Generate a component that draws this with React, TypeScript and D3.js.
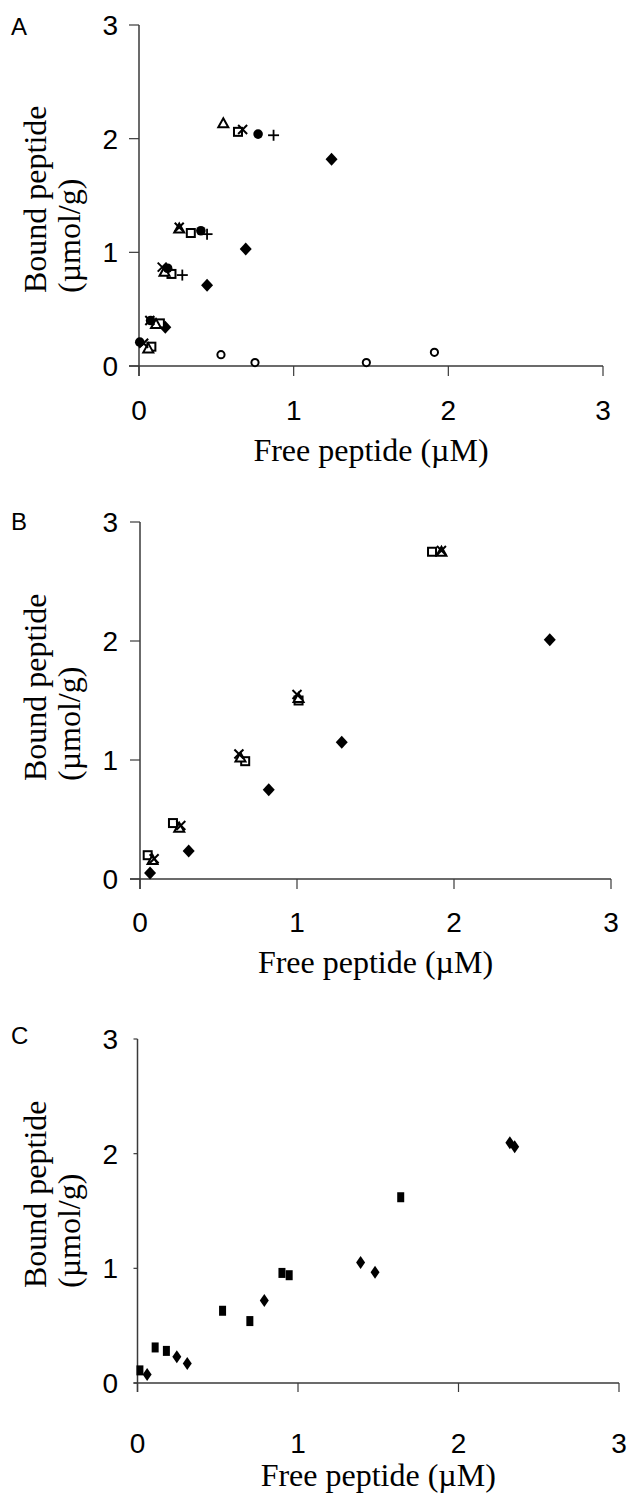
import React from 'react';
import * as d3 from 'd3';

type Pt = [number, number];

const tickValues = [0, 1, 2, 3];
const panelLetters = ['A', 'B', 'C'];
const xTitle = 'Free peptide (\u00b5M)';
const yTitle1 = 'Bound peptide';
const yTitle2 = '(\u00b5mol/g)';

// Panel A
const aDiamond: Pt[] = [[0.17, 0.34], [0.44, 0.71], [0.69, 1.03], [1.245, 1.82]];
const aSquare: Pt[] = [[0.08, 0.17], [0.135, 0.375], [0.21, 0.81], [0.335, 1.17], [0.64, 2.06]];
const aTriangle: Pt[] = [[0.06, 0.155], [0.11, 0.37], [0.165, 0.83], [0.26, 1.21], [0.545, 2.135]];
const aCross: Pt[] = [[0.03, 0.2], [0.07, 0.4], [0.15, 0.87], [0.26, 1.22], [0.67, 2.08]];
const aCircle: Pt[] = [[0.005, 0.21], [0.075, 0.4], [0.185, 0.86], [0.4, 1.19], [0.77, 2.04]];
const aPlus: Pt[] = [[0.28, 0.8], [0.44, 1.16], [0.87, 2.03]];
const aOpenCircle: Pt[] = [[0.53, 0.1], [0.75, 0.03], [1.47, 0.03], [1.91, 0.12]];

// Panel B
const bDiamond: Pt[] = [[0.064, 0.05], [0.31, 0.235], [0.82, 0.75], [1.285, 1.15], [2.61, 2.01]];
const bSquare: Pt[] = [[0.049, 0.2], [0.21, 0.47], [0.67, 0.99], [1.01, 1.5], [1.86, 2.75]];
const bTriangle: Pt[] = [[0.08, 0.16], [0.25, 0.43], [0.64, 1.02], [1.01, 1.52], [1.92, 2.75]];
const bCross: Pt[] = [[0.09, 0.17], [0.26, 0.45], [0.63, 1.05], [1.0, 1.55], [1.92, 2.76]];

// Panel C
const cSquare: Pt[] = [[0.015, 0.11], [0.11, 0.31], [0.18, 0.28], [0.53, 0.63], [0.7, 0.54], [0.9, 0.96], [0.945, 0.94], [1.64, 1.62]];
const cDiamond: Pt[] = [[0.06, 0.075], [0.245, 0.23], [0.31, 0.17], [0.79, 0.72], [1.39, 1.05], [1.48, 0.965], [2.32, 2.095], [2.35, 2.06]];

type Marker = 'diamond' | 'square' | 'triangle' | 'x' | 'circle' | 'plus' | 'ocircle' | 'bar' | 'ndiamond';

interface Panel {
  letter: string;
  left: number; right: number; top: number; bottom: number;
  yTick: number; xTick: number;
  letterY: number; xLabelY: number; xTitleY: number; yTitleStart: number;
  series: { m: Marker; d: Pt[] }[];
}

const panels: Panel[] = [
  {
    letter: panelLetters[0], left: 139, right: 603, top: 25, bottom: 366, yTick: 10, xTick: 10,
    letterY: 35, xLabelY: 420, xTitleY: 461, yTitleStart: 293,
    series: [
      { m: 'ocircle', d: aOpenCircle },
      { m: 'diamond', d: aDiamond },
      { m: 'plus', d: aPlus },
      { m: 'square', d: aSquare },
      { m: 'triangle', d: aTriangle },
      { m: 'circle', d: aCircle },
      { m: 'x', d: aCross },
    ],
  },
  {
    letter: panelLetters[1], left: 140, right: 611, top: 522, bottom: 879, yTick: 10, xTick: 10,
    letterY: 530, xLabelY: 932, xTitleY: 973, yTitleStart: 781,
    series: [
      { m: 'diamond', d: bDiamond },
      { m: 'square', d: bSquare },
      { m: 'triangle', d: bTriangle },
      { m: 'x', d: bCross },
    ],
  },
  {
    letter: panelLetters[2], left: 137.5, right: 619, top: 1039, bottom: 1383, yTick: 4, xTick: 9,
    letterY: 1044, xLabelY: 1453, xTitleY: 1486, yTitleStart: 1288,
    series: [
      { m: 'bar', d: cSquare },
      { m: 'ndiamond', d: cDiamond },
    ],
  },
];

function renderMarker(m: Marker, cx: number, cy: number, key: string) {
  const sw = 2;
  switch (m) {
    case 'diamond':
      return <path key={key} d={`M${cx},${cy - 6.5}L${cx + 6},${cy}L${cx},${cy + 6.5}L${cx - 6},${cy}Z`} fill="#000" />;
    case 'ndiamond':
      return <path key={key} d={`M${cx},${cy - 6.5}L${cx + 4.5},${cy}L${cx},${cy + 6.5}L${cx - 4.5},${cy}Z`} fill="#000" />;
    case 'square':
      return <rect key={key} x={cx - 4} y={cy - 4} width={8} height={8} fill="#fff" stroke="#000" strokeWidth={sw} />;
    case 'bar':
      return <rect key={key} x={cx - 3.5} y={cy - 5} width={7} height={10} fill="#000" />;
    case 'triangle':
      return <path key={key} d={`M${cx},${cy - 5}L${cx + 5},${cy + 4}L${cx - 5},${cy + 4}Z`} fill="#fff" stroke="#000" strokeWidth={sw} strokeLinejoin="miter" />;
    case 'x':
      return (
        <g key={key} stroke="#000" strokeWidth={sw}>
          <line x1={cx - 4.5} y1={cy - 4.5} x2={cx + 4.5} y2={cy + 4.5} />
          <line x1={cx - 4.5} y1={cy + 4.5} x2={cx + 4.5} y2={cy - 4.5} />
        </g>
      );
    case 'plus':
      return (
        <g key={key} stroke="#000" strokeWidth={1.8}>
          <line x1={cx - 5.5} y1={cy} x2={cx + 5.5} y2={cy} />
          <line x1={cx} y1={cy - 5.5} x2={cx} y2={cy + 5.5} />
        </g>
      );
    case 'circle':
      return <circle key={key} cx={cx} cy={cy} r={4.8} fill="#000" />;
    case 'ocircle':
      return <circle key={key} cx={cx} cy={cy} r={3.6} fill="#fff" stroke="#000" strokeWidth={2} />;
  }
}

const sans = 'Liberation Sans, Arial, sans-serif';
const serif = 'Liberation Serif, Times New Roman, serif';

function PanelView({ p }: { p: Panel }) {
  const x = d3.scaleLinear().domain([0, 3]).range([p.left, p.right]);
  const y = d3.scaleLinear().domain([0, 3]).range([p.bottom, p.top]);
  const axisColor = '#3a3a3a';
  const midY = p.yTitleStart;
  return (
    <g>
      <text x={11} y={p.letterY} fontFamily={sans} fontSize={24} fill="#000">{p.letter}</text>
      {/* axes */}
      <line x1={x(0)} y1={y(3)} x2={x(0)} y2={y(0) + p.xTick} stroke={axisColor} strokeWidth={1.5} />
      <line x1={x(0) - p.yTick} y1={y(0)} x2={x(3)} y2={y(0)} stroke={axisColor} strokeWidth={1.5} />
      {tickValues.map((t) => (
        <g key={'yt' + t}>
          <line x1={x(0) - p.yTick} y1={y(t)} x2={x(0)} y2={y(t)} stroke={axisColor} strokeWidth={1.2} />
          <text x={118} y={y(t)} dy="0.36em" textAnchor="end" fontFamily={sans} fontSize={28} fill="#000">{t}</text>
        </g>
      ))}
      {tickValues.map((t) => (
        <g key={'xt' + t}>
          <line x1={x(t)} y1={y(0)} x2={x(t)} y2={y(0) + p.xTick} stroke={axisColor} strokeWidth={1.2} />
          <text x={x(t)} y={p.xLabelY} textAnchor="middle" fontFamily={sans} fontSize={28} fill="#000">{t}</text>
        </g>
      ))}
      {/* titles */}
      <text x={(x(0) + x(3)) / 2} y={p.xTitleY} textAnchor="middle" fontFamily={serif} fontSize={32} fill="#000">{xTitle}</text>
      <text transform={`translate(46,${midY}) rotate(-90)`} textAnchor="start" fontFamily={serif} fontSize={32} fill="#000">{yTitle1}</text>
      <text transform={`translate(80,${midY}) rotate(-90)`} textAnchor="start" fontFamily={serif} fontSize={32} fill="#000">{yTitle2}</text>
      {/* data */}
      {p.series.map((s, si) => (
        <g key={'s' + si}>
          {s.d.map((pt, i) => renderMarker(s.m, x(pt[0]), y(pt[1]), `${si}-${i}`))}
        </g>
      ))}
    </g>
  );
}

export default function App() {
  return (
    <svg width={633} height={1495} style={{ position: 'absolute', left: 0, top: 0, background: '#fff' }}>
      <rect width={633} height={1495} fill="#fff" />
      {panels.map((p) => (
        <PanelView key={p.letter} p={p} />
      ))}
    </svg>
  );
}
